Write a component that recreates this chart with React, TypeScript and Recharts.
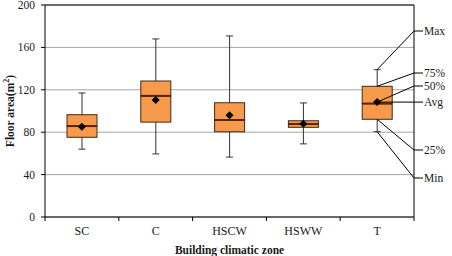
import {
  ComposedChart,
  Bar,
  Scatter,
  XAxis,
  YAxis,
  CartesianGrid,
  ReferenceLine,
  ReferenceDot,
} from 'recharts';

const zones = ['SC', 'C', 'HSCW', 'HSWW', 'T'];
const minVals = [64, 59.5, 56.5, 69, 80.5];
const q1Vals = [75.2, 89.5, 80.4, 84.6, 92.2];
const medianVals = [85.8, 114.3, 91.5, 87.7, 107];
const q3Vals = [96.5, 128.3, 107.8, 90.8, 123.3];
const maxVals = [117, 168, 170.8, 107.6, 139];
const meanVals = [85.2, 110.4, 96, 87.9, 108.4];
const yTicks = [0, 40, 80, 120, 160, 200];

// legend labels for the T box, with the pixel row each label sits on
const keyLabels = [
  { text: 'Max', stat: 'max', labelY: 31 },
  { text: '75%', stat: 'q3', labelY: 73 },
  { text: '50%', stat: 'mean', labelY: 86 },
  { text: 'Avg', stat: 'mean', labelY: null },
  { text: '25%', stat: 'q1', labelY: 150 },
  { text: 'Min', stat: 'min', labelY: 178 },
];

const W = 452;
const H = 256;
const MARGIN = { top: 5, right: 38, bottom: 0, left: 0 };
const Y_AXIS_W = 45;
const X_AXIS_H = 39;
const PLOT_LEFT = MARGIN.left + Y_AXIS_W;
const PLOT_RIGHT = W - MARGIN.right;
const BAND = (PLOT_RIGHT - PLOT_LEFT) / zones.length;

const FONT = '"Liberation Serif", "Times New Roman", serif';
const TEXT = '#1a1a1a';
const BOX_FILL = '#F79A4C';
const BOX_EDGE = '#3f2a1a';
const MEDIAN = '#5a2608';
const WHISKER = '#333333';
const CAP = 7;

const data = zones.map((zone, i) => ({
  zone,
  base: minVals[i],
  lowWhisker: q1Vals[i] - minVals[i],
  lowBox: medianVals[i] - q1Vals[i],
  highBox: q3Vals[i] - medianVals[i],
  highWhisker: maxVals[i] - q3Vals[i],
  mean: meanVals[i],
}));

const tIdx = zones.indexOf('T');
const tStats: Record<string, number> = {
  max: maxVals[tIdx],
  q3: q3Vals[tIdx],
  median: medianVals[tIdx],
  mean: meanVals[tIdx],
  q1: q1Vals[tIdx],
  min: minVals[tIdx],
};

const LowWhisker = (p: any) => {
  const cx = p.x + p.width / 2;
  const bottom = p.y + p.height;
  return (
    <g>
      <line x1={cx} x2={cx} y1={p.y} y2={bottom} stroke={WHISKER} strokeWidth={1} />
      <line x1={cx - CAP / 2} x2={cx + CAP / 2} y1={bottom} y2={bottom} stroke={WHISKER} strokeWidth={1} />
    </g>
  );
};

const HighWhisker = (p: any) => {
  const cx = p.x + p.width / 2;
  return (
    <g>
      <line x1={cx} x2={cx} y1={p.y} y2={p.y + p.height} stroke={WHISKER} strokeWidth={1} />
      <line x1={cx - CAP / 2} x2={cx + CAP / 2} y1={p.y} y2={p.y} stroke={WHISKER} strokeWidth={1} />
    </g>
  );
};

const LowBox = (p: any) => (
  <rect x={p.x} y={p.y} width={p.width} height={p.height} fill={BOX_FILL} stroke={BOX_EDGE} strokeWidth={1} />
);

// upper half of the box, with the median drawn along its lower edge
const HighBox = (p: any) => {
  const bottom = p.y + p.height;
  return (
    <g>
      <rect x={p.x} y={p.y} width={p.width} height={p.height} fill={BOX_FILL} stroke={BOX_EDGE} strokeWidth={1} />
      <line x1={p.x} x2={p.x + p.width} y1={bottom} y2={bottom} stroke={MEDIAN} strokeWidth={2} />
    </g>
  );
};

const Diamond = (p: any) => {
  const { cx, cy } = p;
  const r = 4;
  return <polygon points={`${cx},${cy - r} ${cx + r},${cy} ${cx},${cy + r} ${cx - r},${cy}`} fill="#000" />;
};

const ZoneTick = (p: any) => {
  const { x, y, payload, index } = p;
  const axisY = y - 4;
  const left = x - BAND / 2;
  return (
    <g>
      <line x1={left} x2={left} y1={axisY} y2={axisY + 4} stroke="#000" />
      {index === zones.length - 1 && (
        <line x1={x + BAND / 2} x2={x + BAND / 2} y1={axisY} y2={axisY + 4} stroke="#000" />
      )}
      <text x={x} y={axisY + 14} textAnchor="middle" dominantBaseline="central" fontFamily={FONT} fontSize={12} fill={TEXT}>
        {payload.value}
      </text>
    </g>
  );
};

const ValueTick = (p: any) => (
  <text x={p.x} y={p.y} textAnchor="end" dominantBaseline="central" fontFamily={FONT} fontSize={11.5} fill={TEXT}>
    {p.payload.value}
  </text>
);

const YTitle = (p: any) => {
  const vb = p.viewBox;
  const cx = 10;
  const cy = vb.y + vb.height / 2;
  return (
    <text
      x={cx}
      y={cy}
      transform={`rotate(-90 ${cx} ${cy})`}
      textAnchor="middle"
      dominantBaseline="central"
      fontFamily={FONT}
      fontSize={11.5}
      fontWeight="bold"
      fill={TEXT}
    >
      Floor area(m<tspan dy={-4} fontSize={8}>2</tspan>
      <tspan dy={4}>)</tspan>
    </text>
  );
};

const XTitle = (p: any) => {
  const vb = p.viewBox;
  return (
    <text
      x={vb.x + vb.width / 2}
      y={vb.y + vb.height - 6}
      textAnchor="middle"
      dominantBaseline="central"
      fontFamily={FONT}
      fontSize={11.5}
      fontWeight="bold"
      fill={TEXT}
    >
      Building climatic zone
    </text>
  );
};

// leader line from a point of the T box out to its label in the right margin
const makeKey = (text: string, labelY: number | null) => (p: any) => {
  const { cx, cy } = p;
  const ly = labelY ?? cy;
  return (
    <g>
      <polyline
        points={`${cx},${cy} ${PLOT_RIGHT},${ly} ${PLOT_RIGHT + 9},${ly}`}
        fill="none"
        stroke="#000"
        strokeWidth={1}
      />
      <text x={PLOT_RIGHT + 10} y={ly} dominantBaseline="central" fontFamily={FONT} fontSize={11.5} fill={TEXT}>
        {text}
      </text>
    </g>
  );
};

export default function App() {
  return (
    <div style={{ position: 'absolute', left: 0, top: 0, background: '#fff' }}>
      <ComposedChart width={W} height={H} data={data} margin={MARGIN}>
        <CartesianGrid vertical={false} stroke="#a6a6a6" />
        <XAxis
          dataKey="zone"
          height={X_AXIS_H}
          axisLine={{ stroke: '#000' }}
          tickLine={false}
          tickSize={4}
          tickMargin={0}
          tick={<ZoneTick />}
          interval={0}
          label={<XTitle />}
        />
        <YAxis
          width={Y_AXIS_W}
          domain={[0, 200]}
          ticks={yTicks}
          interval={0}
          axisLine={{ stroke: '#000' }}
          tickLine={{ stroke: '#000' }}
          tickSize={4}
          tickMargin={6}
          tick={<ValueTick />}
          label={<YTitle />}
        />
        <ReferenceLine y={200} stroke="#000" />
        <ReferenceLine x="T" position="end" stroke="#000" />
        <Bar dataKey="base" stackId="box" barSize={30} fill="transparent" isAnimationActive={false} />
        <Bar dataKey="lowWhisker" stackId="box" barSize={30} shape={<LowWhisker />} isAnimationActive={false} />
        <Bar dataKey="lowBox" stackId="box" barSize={30} shape={<LowBox />} isAnimationActive={false} />
        <Bar dataKey="highBox" stackId="box" barSize={30} shape={<HighBox />} isAnimationActive={false} />
        <Bar dataKey="highWhisker" stackId="box" barSize={30} shape={<HighWhisker />} isAnimationActive={false} />
        <Scatter dataKey="mean" shape={<Diamond />} isAnimationActive={false} />
        {keyLabels.map((k) => (
          <ReferenceDot
            key={k.text}
            x="T"
            y={tStats[k.stat]}
            r={0}
            ifOverflow="visible"
            shape={makeKey(k.text, k.labelY)}
          />
        ))}
      </ComposedChart>
    </div>
  );
}
